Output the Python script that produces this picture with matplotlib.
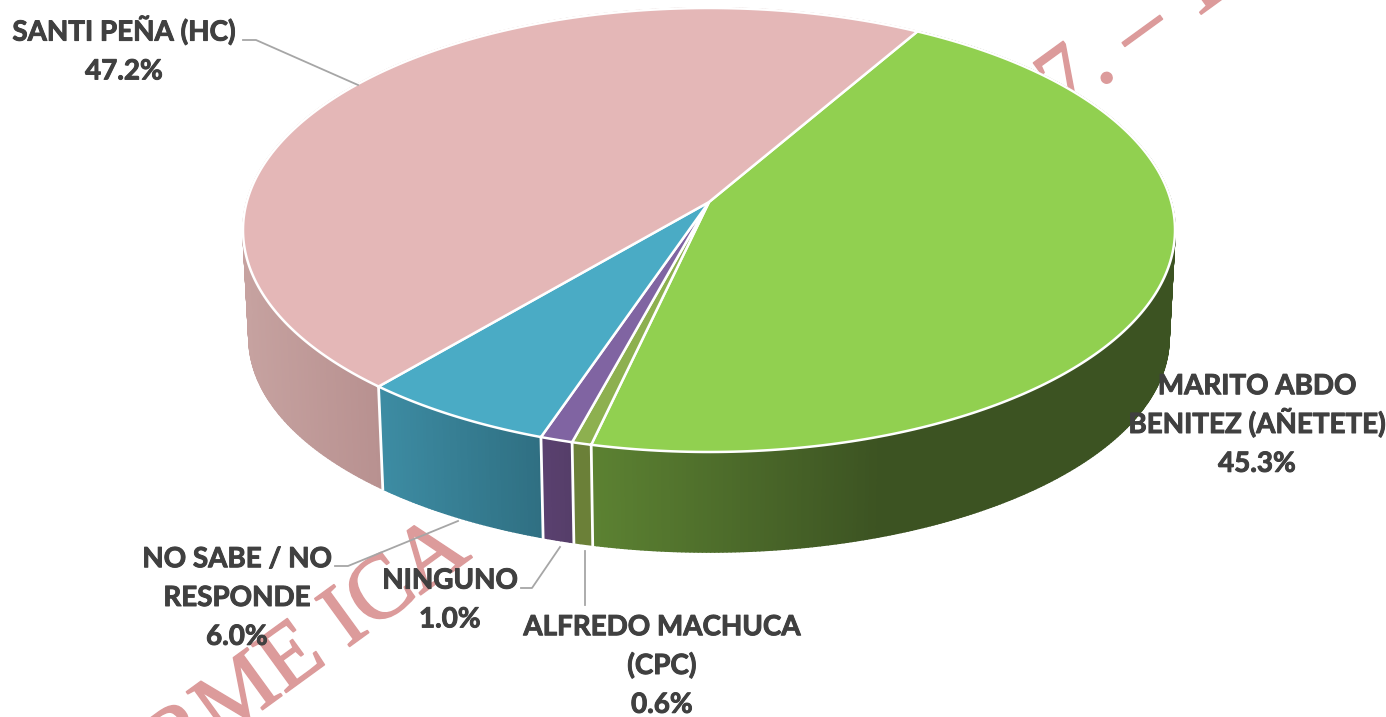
import numpy as np
import matplotlib
matplotlib.use("Agg")
import matplotlib.pyplot as plt
import matplotlib.patheffects as pe
from matplotlib.collections import PolyCollection
from matplotlib.colors import to_rgb
from matplotlib.patches import Polygon

# clockwise from the top of the pie, first slice starts at START_ANGLE
labels = ["MARITO ABDO\nBENITEZ (AÑETETE)", "ALFREDO MACHUCA\n(CPC)", "NINGUNO",
          "NO SABE / NO\nRESPONDE", "SANTI PEÑA (HC)"]
values = [45.3, 0.6, 1.0, 6.0, 47.2]
top_colors = ["#91d050", "#8db04f", "#8064a2", "#4aabc5", "#e4b7b7"]
# wall colour at the left and right hand end of each slice
wall_left = ["#5c8232", "#6b8038", "#5a4070", "#3d8ca3", "#c6a2a0"]
wall_right = ["#3c5322", "#6b8038", "#553e68", "#2f6f82", "#b89190"]
# x pixel where the wall gradient stops
wall_stop = [880, 592, 572, 541, 377]

START_ANGLE = 30.0
CX, CY, RX, RY = 709, 230, 466, 222
K = 0.126  # perspective, moves the apex above the ellipse centre
CX2, CY2, RX2, RY2 = 709, 338, 460, 214  # lower rim

TEXT_COLOR = "#404040"
LEADER_COLOR = "#a6a6a6"
MARK_COLOR = "#dc9b9b"

LINE_PITCH = 38.8
label_pos = [(1257, 423), (662, 664), (450, 598), (237, 596), (124, 50)]
leaders = [
    [(243, 40), (256, 40), (358, 85)],
    [(335, 566), (348, 566), (458, 521)],
    [(521, 588), (532, 588), (560, 547)],
    [(585, 551), (585, 605)],
]


def project(theta):
    u, v = np.sin(np.radians(theta)), np.cos(np.radians(theta))
    vp = (v + K) / (1 + K * v)
    xp = u * np.sqrt(1 - K ** 2) / (1 + K * v)
    return xp, vp


def top_xy(theta):
    xp, vp = project(theta)
    return CX + RX * xp, CY - RY * vp


def low_xy(theta):
    xp, vp = project(theta)
    return CX2 + RX2 * xp, CY2 - RY2 * vp


fig = plt.figure(figsize=(13.86, 7.17), dpi=100)
ax = fig.add_axes([0, 0, 1, 1])
ax.set_xlim(0, 1386)
ax.set_ylim(717, 0)
ax.axis("off")

# watermark sits behind the pie
mark = dict(family="Liberation Serif", color=MARK_COLOR, rotation=36, rotation_mode="anchor",
            ha="center", va="center", zorder=1, clip_on=True,
            path_effects=[pe.withStroke(linewidth=1.2, foreground=MARK_COLOR)])
ax.text(282, 668, "ORME ICA", fontsize=65, **mark)
ax.text(1136, 34, "7. – T", fontsize=65, **mark)

edges = START_ANGLE + np.cumsum([0] + values) * 360 / sum(values)

# side walls
for i, val in enumerate(values):
    th = np.linspace(edges[i], edges[i + 1], max(int(val * 8), 3))
    quads, colors = [], []
    x_left = min(top_xy(edges[i + 1])[0], top_xy(edges[i])[0])
    c0, c1 = np.array(to_rgb(wall_left[i])), np.array(to_rgb(wall_right[i]))
    for a, b in zip(th[:-1], th[1:]):
        xa, ya = top_xy(a)
        xb, yb = top_xy(b)
        xc, yc = low_xy(b)
        xd, yd = low_xy(a)
        quads.append([(xa, ya), (xb, yb), (xc, yc), (xd, yd)])
        if i == 4:
            x0, x1 = 243, wall_stop[i]
        else:
            x0, x1 = x_left, max(wall_stop[i], x_left + 1)
        t = np.clip(((xa + xb) / 2 - x0) / (x1 - x0), 0, 1)
        colors.append(c0 + (c1 - c0) * t)
    ax.add_collection(PolyCollection(quads, facecolors=colors, edgecolors=colors, linewidths=1.2, zorder=2))

for e in edges:
    xt, yt = top_xy(e)
    xl, yl = low_xy(e)
    if yl > yt:
        ax.plot([xt, xl], [yt, yl], color="white", lw=2, zorder=3)

# top face
apex = top_xy(0)[0], CY - RY * K
for i in range(len(values)):
    th = np.linspace(edges[i], edges[i + 1], 200)
    xs, ys = top_xy(th)
    pts = [apex] + list(zip(xs, ys))
    ax.add_patch(Polygon(pts, closed=True, facecolor=top_colors[i], edgecolor="white", lw=1.8, zorder=4))

for pts in leaders:
    ax.plot(*zip(*pts), color=LEADER_COLOR, lw=1.3, zorder=5)

# Lato bold is a bit lighter than the reference, thicken it
thick = [pe.withStroke(linewidth=0.7, foreground=TEXT_COLOR)]
for name, val, (x, y) in zip(labels, values, label_pos):
    lines = name.split("\n") + [f"{val:.1f}%"]
    for k, line in enumerate(lines):
        # one text per line, the tall Ñ would stretch a multiline block
        line_y = y + (k - (len(lines) - 1) / 2) * LINE_PITCH + 10
        ax.text(x, line_y, line, family="Lato", weight="bold", fontsize=20, color=TEXT_COLOR,
                ha="center", va="baseline", zorder=6, path_effects=thick)

fig.savefig("out.png", dpi=100)
